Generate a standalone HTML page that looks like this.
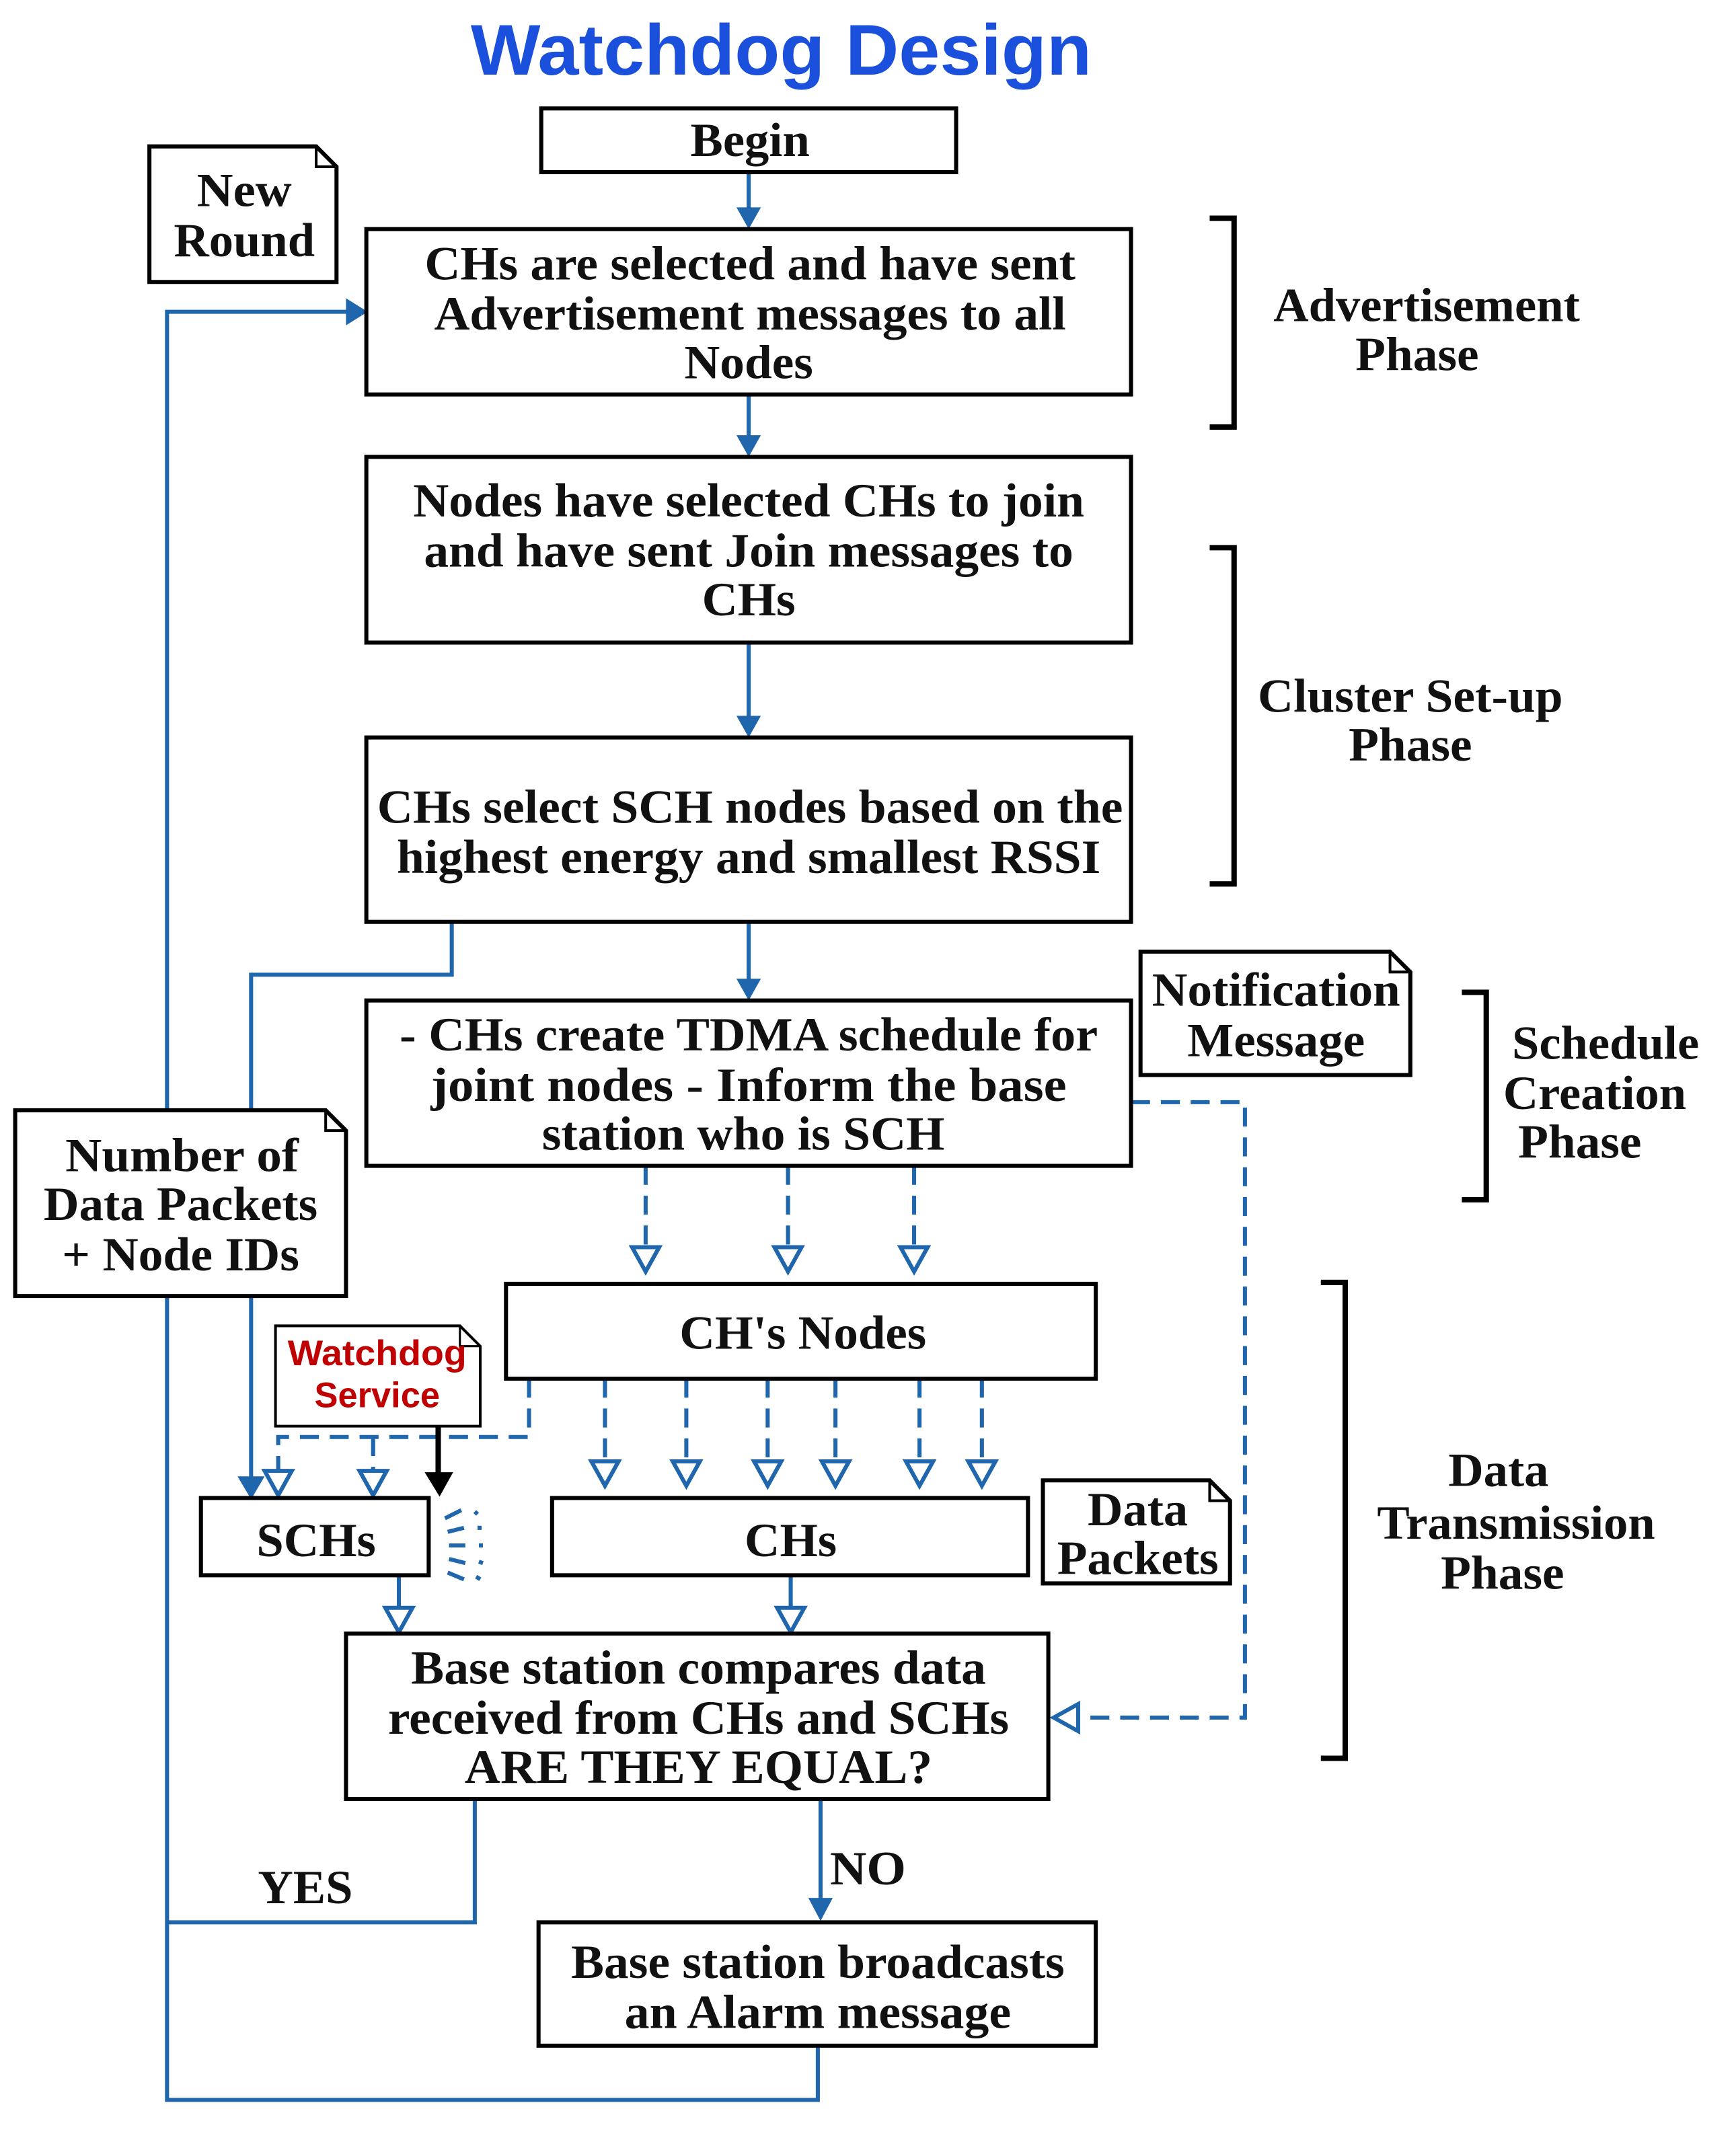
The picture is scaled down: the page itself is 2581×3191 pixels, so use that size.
<!DOCTYPE html>
<html><head><meta charset="utf-8"><style>html,body{margin:0;padding:0;background:#fff}svg{display:block}</style></head>
<body>
<svg width="2581" height="3191" viewBox="0 0 1280 1583" xmlns="http://www.w3.org/2000/svg">
<style>
.b{fill:#fff;stroke:#000;stroke-width:3}
.t{font-family:"Liberation Serif",serif;font-weight:bold;font-size:35px;text-anchor:middle;fill:#111}
.c{stroke:#1f66ad;stroke-width:3;fill:none}
.d{stroke:#1f66ad;stroke-width:3;fill:none;stroke-dasharray:14,8}
.o{fill:#fff;stroke:#1f66ad;stroke-width:3}
.a{fill:#1f66ad}
</style>
<text x="576" y="55" textLength="458" lengthAdjust="spacingAndGlyphs" style="font-family:'Liberation Sans',sans-serif;font-weight:bold;font-size:53px;fill:#1a50dc;text-anchor:middle">Watchdog Design</text>

<path class="c" d="M552,127V156M552,291V324M552,474V531M552,680V725"/>
<path class="a" d="M543,153h18l-9,16zM543,321h18l-9,16zM543,528h18l-9,16zM543,722h18l-9,16z"/>
<path class="c" d="M333,680V719H185V1092"/>
<path class="a" d="M175,1089h20l-10,17z"/>
<path class="c" d="M603,1509V1549H123V230H257M350,1327V1418H123"/>
<path class="a" d="M255,220l16,10l-16,10z"/>
<path class="c" d="M605,1327V1403"/>
<path class="a" d="M596,1400h18l-9,17z"/>
<path class="d" d="M476,860V920M581,860V920M674,860V920"/>
<path class="o" d="M466,920h20l-10,18zM571,920h20l-10,18zM664,920h20l-10,18z"/>
<path class="d" d="M834,813H918V1267H795"/>
<path class="o" d="M795,1257v20l-18,-10z"/>
<path class="d" d="M446,1017V1078M506,1017V1078M566,1017V1078M616,1017V1078M678,1017V1078M724,1017V1078"/>
<path class="o" d="M436,1078h20l-10,18zM496,1078h20l-10,18zM556,1078h20l-10,18zM606,1078h20l-10,18zM668,1078h20l-10,18zM714,1078h20l-10,18z"/>
<path class="d" d="M390,1017V1060H205V1085M275,1060V1085"/>
<path class="o" d="M195,1085h20l-10,18zM265,1085h20l-10,18z"/>
<path stroke="#000" stroke-width="4" d="M323,1052V1088"/>
<path fill="#000" d="M313,1086h21l-10,18z"/>
<path class="c" stroke-width="2.5" d="M328,1120l12,-6M330,1130l12,-3M331,1140l12,0M331,1150l12,3M330,1160l12,5M350,1115l2,2M352,1127l3,0M353,1140l3,0M353,1152l3,1M351,1163l3,2"/>
<path class="c" d="M294,1162V1188M583,1162V1188"/>
<path class="o" d="M284,1186h20l-10,18zM573,1186h20l-10,18z"/>

<rect class="b" x="399" y="80" width="306" height="47"/>
<text class="t" x="553" y="115" textLength="88" lengthAdjust="spacingAndGlyphs">Begin</text>
<rect class="b" x="270" y="169" width="564" height="122"/>
<text class="t" x="553" y="206" textLength="480" lengthAdjust="spacingAndGlyphs">CHs are selected and have sent</text>
<text class="t" x="553" y="243" textLength="466" lengthAdjust="spacingAndGlyphs">Advertisement messages to all</text>
<text class="t" x="552" y="279" textLength="95" lengthAdjust="spacingAndGlyphs">Nodes</text>
<rect class="b" x="270" y="337" width="564" height="137"/>
<text class="t" x="552" y="381" textLength="495" lengthAdjust="spacingAndGlyphs">Nodes have selected CHs to join</text>
<text class="t" x="552" y="418" textLength="479" lengthAdjust="spacingAndGlyphs">and have sent Join messages to</text>
<text class="t" x="552" y="454" textLength="69" lengthAdjust="spacingAndGlyphs">CHs</text>
<rect class="b" x="270" y="544" width="564" height="136"/>
<text class="t" x="553" y="607" textLength="550" lengthAdjust="spacingAndGlyphs">CHs select SCH nodes based on the</text>
<text class="t" x="552" y="644" textLength="519" lengthAdjust="spacingAndGlyphs">highest energy and smallest RSSI</text>
<rect class="b" x="270" y="738" width="564" height="122"/>
<text class="t" x="552" y="775" textLength="515" lengthAdjust="spacingAndGlyphs">- CHs create TDMA schedule for</text>
<text class="t" x="552" y="812" textLength="469" lengthAdjust="spacingAndGlyphs">joint nodes  - Inform  the base</text>
<text class="t" x="548" y="848" textLength="297" lengthAdjust="spacingAndGlyphs">station who is SCH</text>
<rect class="b" x="373" y="947" width="435" height="70"/>
<text class="t" x="592" y="995" textLength="182" lengthAdjust="spacingAndGlyphs">CH's Nodes</text>
<rect class="b" x="148" y="1105" width="168" height="57"/>
<text class="t" x="233" y="1148" textLength="88" lengthAdjust="spacingAndGlyphs">SCHs</text>
<rect class="b" x="407" y="1105" width="351" height="57"/>
<text class="t" x="583" y="1148" textLength="68" lengthAdjust="spacingAndGlyphs">CHs</text>
<rect class="b" x="255" y="1205" width="518" height="122"/>
<text class="t" x="515" y="1242" textLength="424" lengthAdjust="spacingAndGlyphs">Base station compares data</text>
<text class="t" x="515" y="1279" textLength="458" lengthAdjust="spacingAndGlyphs">received from CHs and SCHs</text>
<text class="t" x="515" y="1315" textLength="345" lengthAdjust="spacingAndGlyphs">ARE THEY EQUAL?</text>
<rect class="b" x="397" y="1418" width="411" height="91"/>
<text class="t" x="603" y="1459" textLength="364" lengthAdjust="spacingAndGlyphs">Base station broadcasts</text>
<text class="t" x="603" y="1496" textLength="285" lengthAdjust="spacingAndGlyphs">an Alarm message</text>

<path class="b" d="M110,108H233L248,123V208H110z"/><path d="M233,108V123H248" fill="none" stroke="#000" stroke-width="2"/>
<text class="t" x="180" y="152" textLength="70" lengthAdjust="spacingAndGlyphs">New</text><text class="t" x="180" y="189" textLength="104" lengthAdjust="spacingAndGlyphs">Round</text>
<path class="b" d="M841,702H1025L1040,717V793H841z"/><path d="M1025,702V717H1040" fill="none" stroke="#000" stroke-width="2"/>
<text class="t" x="941" y="742" textLength="183" lengthAdjust="spacingAndGlyphs">Notification</text><text class="t" x="941" y="779" textLength="131" lengthAdjust="spacingAndGlyphs">Message</text>
<path class="b" d="M11,819H240L255,834V956H11z"/><path d="M240,819V834H255" fill="none" stroke="#000" stroke-width="2"/>
<text class="t" x="134" y="864" textLength="172" lengthAdjust="spacingAndGlyphs">Number of</text><text class="t" x="133" y="900" textLength="202" lengthAdjust="spacingAndGlyphs">Data Packets</text><text class="t" x="133" y="937" textLength="175" lengthAdjust="spacingAndGlyphs">+ Node IDs</text>
<path d="M203,978H339L354,993V1052H203z" fill="#fff" stroke="#000" stroke-width="2"/><path d="M339,978V993H354" fill="none" stroke="#000" stroke-width="1.5"/>
<text x="278" y="1007" textLength="132" lengthAdjust="spacingAndGlyphs" style="font-family:'Liberation Sans',sans-serif;font-weight:bold;font-size:26px;fill:#c00000;text-anchor:middle">Watchdog</text>
<text x="278" y="1038" style="font-family:'Liberation Sans',sans-serif;font-weight:bold;font-size:26px;fill:#c00000;text-anchor:middle">Service</text>
<path class="b" d="M769,1092H892L907,1107V1168H769z"/><path d="M892,1092V1107H907" fill="none" stroke="#000" stroke-width="2"/>
<text class="t" x="839" y="1125" textLength="74" lengthAdjust="spacingAndGlyphs">Data</text><text class="t" x="839" y="1161" textLength="119" lengthAdjust="spacingAndGlyphs">Packets</text>

<text class="t" x="225" y="1404" textLength="70" lengthAdjust="spacingAndGlyphs">YES</text>
<text class="t" x="640" y="1390" textLength="56" lengthAdjust="spacingAndGlyphs">NO</text>

<path d="M892,161H910V315H892M892,404H910V652H892M1078,732H1096V885H1078M974,946H992V1297H974" fill="none" stroke="#000" stroke-width="4"/>
<text class="t" x="1052" y="237" textLength="226" lengthAdjust="spacingAndGlyphs">Advertisement</text><text class="t" x="1045" y="273" textLength="91" lengthAdjust="spacingAndGlyphs">Phase</text>
<text class="t" x="1040" y="525" textLength="225" lengthAdjust="spacingAndGlyphs">Cluster Set-up</text><text class="t" x="1040" y="561" textLength="91" lengthAdjust="spacingAndGlyphs">Phase</text>
<text class="t" x="1184" y="781" textLength="138" lengthAdjust="spacingAndGlyphs">Schedule</text><text class="t" x="1176" y="818" textLength="135" lengthAdjust="spacingAndGlyphs">Creation</text><text class="t" x="1165" y="854" textLength="91" lengthAdjust="spacingAndGlyphs">Phase</text>
<text class="t" x="1105" y="1096" textLength="74" lengthAdjust="spacingAndGlyphs">Data</text><text class="t" x="1118" y="1135" textLength="205" lengthAdjust="spacingAndGlyphs">Transmission</text><text class="t" x="1108" y="1172" textLength="91" lengthAdjust="spacingAndGlyphs">Phase</text>
</svg>
</body></html>
